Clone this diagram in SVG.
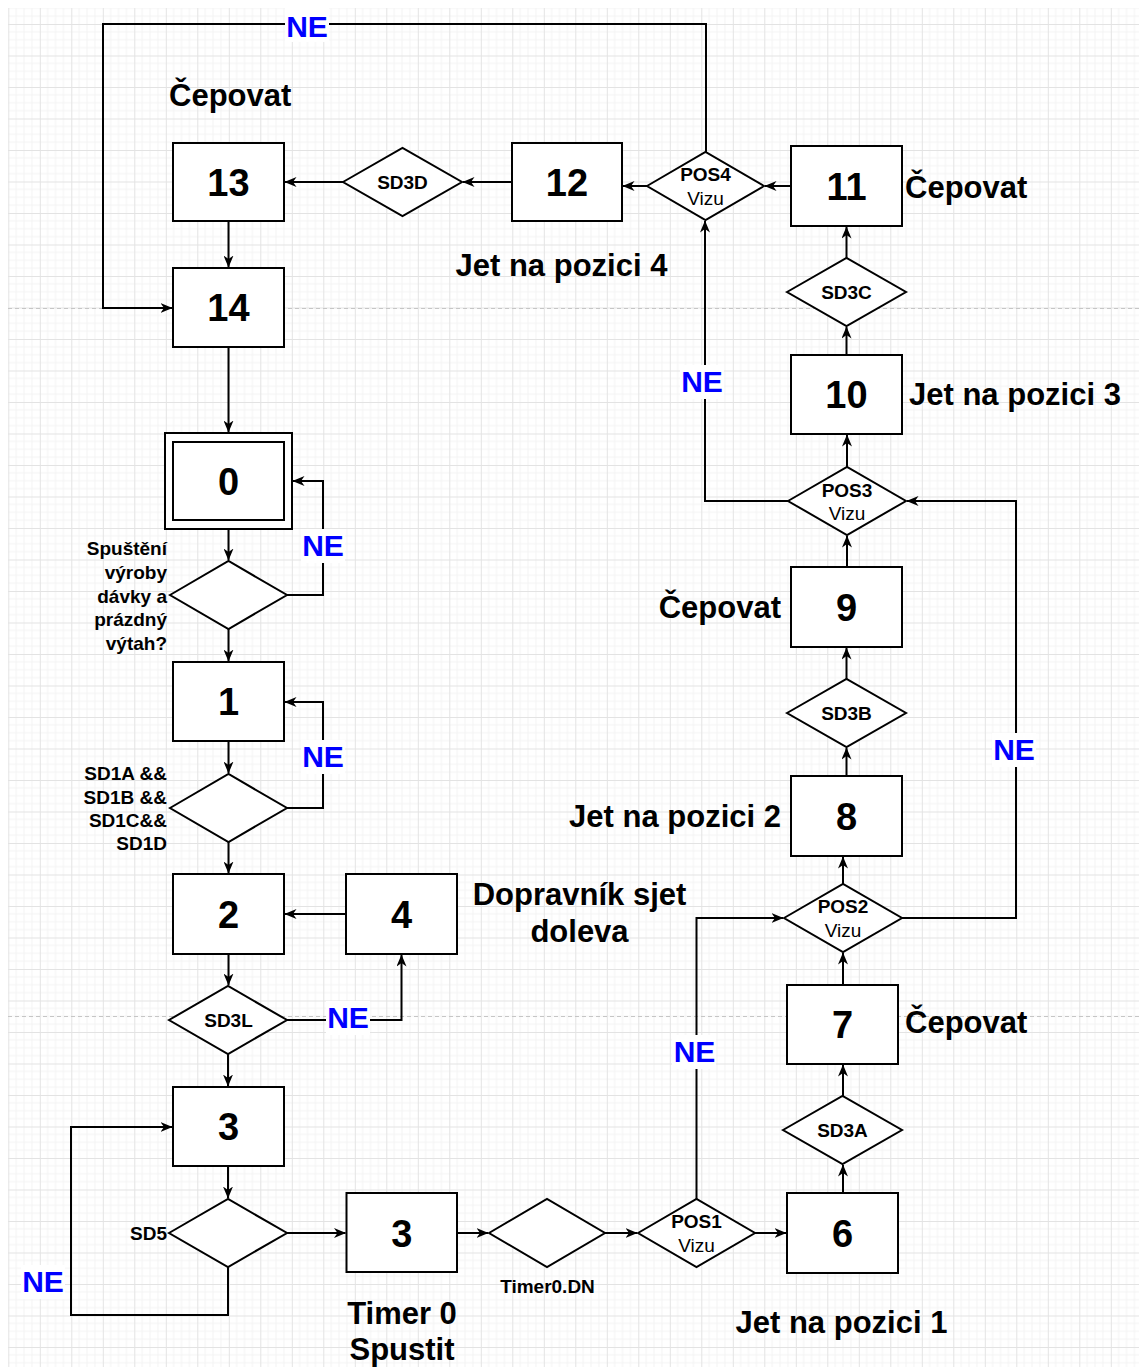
<svg xmlns="http://www.w3.org/2000/svg" width="1139" height="1367" viewBox="0 0 1139 1367">
<defs>
<pattern id="grid" patternUnits="userSpaceOnUse" x="8.3" y="24" width="31.5" height="31.5">
<path d="M7.875 0V31.5M15.75 0V31.5M23.625 0V31.5M0 7.875H31.5M0 15.75H31.5M0 23.625H31.5" stroke="#f3f3f3" stroke-width="1"/>
<path d="M0.5 0V31.5M0 0.5H31.5" stroke="#e3e3e3" stroke-width="1"/>
</pattern>
<marker id="arr" viewBox="0 0 12 10" refX="11.5" refY="5" markerWidth="12" markerHeight="10" markerUnits="userSpaceOnUse" orient="auto">
<path d="M0,0 L12,5 L0,10 L3.5,5 z" fill="#000"/>
</marker>
</defs>
<style>
.box{fill:#fff;stroke:#000;stroke-width:2}
.dia{fill:#fff;stroke:#000;stroke-width:2}
text{font-family:"Liberation Sans",Arial,sans-serif;font-weight:bold;fill:#000}
.num{font-size:38px;text-anchor:middle}
.lbl{font-size:31px}
.sm{font-size:19px}
.c{text-anchor:middle}
.r{text-anchor:end}
.reg{font-weight:normal}
.ne{font-size:30px;fill:#0000ff;text-anchor:middle}
.edge{fill:none;stroke:#000;stroke-width:2}
.arrow{marker-end:url(#arr)}
.nebg{fill:#fff}
.pb{stroke:#c6c6c6;stroke-width:1;stroke-dasharray:4 3}
</style>
<rect x="0" y="0" width="1139" height="1367" fill="#fff"/>
<rect x="8" y="8" width="1131" height="1359" fill="url(#grid)"/>
<line class="pb" x1="8" y1="308.5" x2="1139" y2="308.5"/>
<line class="pb" x1="8" y1="1016.5" x2="1139" y2="1016.5"/>

<g id="connectors">
<path class="edge arrow" d="M343,182 H285"/>
<path class="edge arrow" d="M512,182 H463"/>
<path class="edge arrow" d="M647,186 H623"/>
<path class="edge arrow" d="M791,186 H765"/>
<path class="edge arrow" d="M846.5,258 V227"/>
<path class="edge arrow" d="M846.5,355 V327"/>
<path class="edge arrow" d="M847,467 V435"/>
<path class="edge arrow" d="M847,567 V536"/>
<path class="edge arrow" d="M846.5,679 V648"/>
<path class="edge arrow" d="M846.5,776 V748"/>
<path class="edge arrow" d="M843,884 V857"/>
<path class="edge arrow" d="M843,985 V953"/>
<path class="edge arrow" d="M843,1096 V1065"/>
<path class="edge arrow" d="M843,1193 V1165"/>
<path class="edge arrow" d="M755,1233 H786"/>
<path class="edge arrow" d="M605,1233 H637"/>
<path class="edge arrow" d="M457,1233 H488"/>
<path class="edge arrow" d="M287,1233 H345.5"/>
<path class="edge arrow" d="M228,1267 V1315 H71 V1127 H172"/>
<path class="edge arrow" d="M228,1166 V1198"/>
<path class="edge arrow" d="M228,1054 V1086"/>
<path class="edge arrow" d="M287,1020 H401.5 V955"/>
<path class="edge arrow" d="M346,914 H285"/>
<path class="edge arrow" d="M228.5,954 V985"/>
<path class="edge arrow" d="M228.5,842 V873"/>
<path class="edge arrow" d="M287,808 H323 V702 H285"/>
<path class="edge arrow" d="M228.5,741 V773"/>
<path class="edge arrow" d="M228.5,629 V661"/>
<path class="edge arrow" d="M287,595 H323 V481 H293"/>
<path class="edge arrow" d="M228.5,529 V560"/>
<path class="edge arrow" d="M228.5,347 V432"/>
<path class="edge arrow" d="M228.5,221 V267"/>
<path class="edge arrow" d="M706,152 V24 H103 V308 H172"/>
<path class="edge arrow" d="M788,501 H705 V221"/>
<path class="edge arrow" d="M696.5,1199 V918 H783"/>
<path class="edge arrow" d="M902,918 H1016 V501 H907"/>
<g id="ne-labels">
<rect class="nebg" x="285" y="8" width="44" height="34"/><text class="ne" x="307" y="37">NE</text>
<rect class="nebg" x="301" y="529" width="44" height="34"/><text class="ne" x="323" y="556">NE</text>
<rect class="nebg" x="301" y="740" width="44" height="34"/><text class="ne" x="323" y="767">NE</text>
<rect class="nebg" x="326" y="1001" width="44" height="34"/><text class="ne" x="348" y="1028">NE</text>
<rect class="nebg" x="21" y="1265" width="44" height="34"/><text class="ne" x="43" y="1292">NE</text>
<rect class="nebg" x="672" y="1035" width="44" height="34"/><text class="ne" x="694.5" y="1062">NE</text>
<rect class="nebg" x="680" y="365" width="44" height="34"/><text class="ne" x="702" y="392">NE</text>
<rect class="nebg" x="992" y="733" width="44" height="34"/><text class="ne" x="1014" y="760">NE</text>
</g>
</g>

<g id="n13"><rect class="box" x="173" y="143" width="111" height="78"/><text class="num" x="228.5" y="196">13</text></g>
<g id="n14"><rect class="box" x="173" y="268" width="111" height="79"/><text class="num" x="228.5" y="321">14</text></g>
<g id="n0"><rect class="box" x="165" y="433" width="127" height="96"/><rect class="box" x="173" y="442" width="111" height="78"/><text class="num" x="228.5" y="495">0</text></g>
<g id="n1"><rect class="box" x="173" y="662" width="111" height="79"/><text class="num" x="228.5" y="715">1</text></g>
<g id="n2"><rect class="box" x="173" y="874" width="111" height="80"/><text class="num" x="228.5" y="927.5">2</text></g>
<g id="n4"><rect class="box" x="346" y="874" width="111" height="80"/><text class="num" x="401.5" y="927.5">4</text></g>
<g id="n3a"><rect class="box" x="173" y="1087" width="111" height="79"/><text class="num" x="228.5" y="1140">3</text></g>
<g id="n3b"><rect class="box" x="346.5" y="1193" width="110.5" height="79"/><text class="num" x="401.7" y="1246.5">3</text></g>
<g id="n6"><rect class="box" x="787" y="1193" width="111" height="80"/><text class="num" x="842.5" y="1246.5">6</text></g>
<g id="n7"><rect class="box" x="787" y="985" width="111" height="79"/><text class="num" x="842.5" y="1038">7</text></g>
<g id="n8"><rect class="box" x="791" y="776" width="111" height="80"/><text class="num" x="846.5" y="829.5">8</text></g>
<g id="n9"><rect class="box" x="791" y="567" width="111" height="80"/><text class="num" x="846.5" y="620.5">9</text></g>
<g id="n10"><rect class="box" x="791" y="355" width="111" height="79"/><text class="num" x="846.5" y="408">10</text></g>
<g id="n11"><rect class="box" x="791" y="146" width="111" height="80"/><text class="num" x="846.5" y="199.5">11</text></g>
<g id="n12"><rect class="box" x="512" y="143" width="110" height="78"/><text class="num" x="567" y="196">12</text></g>

<g id="dSD3D"><polygon class="dia" points="343,182 402.5,148 462,182 402.5,216"/><text class="sm c" x="402.5" y="189">SD3D</text></g>
<g id="dPOS4"><polygon class="dia" points="647,186 705.5,152 764,186 705.5,220"/><text class="sm c" x="705.5" y="181">POS4</text><text class="sm c reg" x="705.5" y="205">Vizu</text></g>
<g id="dSD3C"><polygon class="dia" points="787,292 846.5,258 906,292 846.5,326"/><text class="sm c" x="846.5" y="299">SD3C</text></g>
<g id="dPOS3"><polygon class="dia" points="788,501 847,467 906,501 847,535"/><text class="sm c" x="847" y="496.5">POS3</text><text class="sm c reg" x="847" y="520">Vizu</text></g>
<g id="dSD3B"><polygon class="dia" points="787,713 846.5,679 906,713 846.5,747"/><text class="sm c" x="846.5" y="720">SD3B</text></g>
<g id="dPOS2"><polygon class="dia" points="784,918 843,884 902,918 843,952"/><text class="sm c" x="843" y="913">POS2</text><text class="sm c reg" x="843" y="937">Vizu</text></g>
<g id="dSD3A"><polygon class="dia" points="783,1130 842.5,1096 902,1130 842.5,1164"/><text class="sm c" x="842.5" y="1137">SD3A</text></g>
<g id="dPOS1"><polygon class="dia" points="638,1233 696.5,1199 755,1233 696.5,1267"/><text class="sm c" x="696.5" y="1228">POS1</text><text class="sm c reg" x="696.5" y="1252">Vizu</text></g>
<g id="dTimer"><polygon class="dia" points="489,1233 547,1199 605,1233 547,1267"/></g>
<g id="dStart"><polygon class="dia" points="170,595 228.5,561 287,595 228.5,629"/></g>
<g id="dSD1"><polygon class="dia" points="170,808 228.5,774 287,808 228.5,842"/></g>
<g id="dSD3L"><polygon class="dia" points="169,1020 228,986 287,1020 228,1054"/><text class="sm c" x="228.5" y="1027">SD3L</text></g>
<g id="dSD5"><polygon class="dia" points="169,1233 228,1199 287,1233 228,1267"/></g>

<g id="labels">
<text class="lbl" x="169" y="106">Čepovat</text>
<text class="lbl" x="455.5" y="276">Jet na pozici 4</text>
<text class="lbl" x="905" y="198">Čepovat</text>
<text class="lbl" x="909" y="405">Jet na pozici 3</text>
<text class="lbl r" x="781" y="618">Čepovat</text>
<text class="lbl r" x="781" y="827">Jet na pozici 2</text>
<text class="lbl c" x="579.5" y="905">Dopravník sjet</text>
<text class="lbl c" x="579.5" y="942">doleva</text>
<text class="lbl" x="905" y="1033">Čepovat</text>
<text class="lbl c" x="402" y="1324">Timer 0</text>
<text class="lbl c" x="402" y="1360">Spustit</text>
<text class="lbl" x="735.5" y="1333">Jet na pozici 1</text>
<text class="sm c" x="547.5" y="1293">Timer0.DN</text>
<text class="sm r" x="167" y="1240">SD5</text>
<text class="sm r" x="167" y="555">Spuštění</text>
<text class="sm r" x="167" y="579">výroby</text>
<text class="sm r" x="167" y="602.5">dávky a</text>
<text class="sm r" x="167" y="626">prázdný</text>
<text class="sm r" x="167" y="649.5">výtah?</text>
<text class="sm r" x="167" y="780">SD1A &amp;&amp;</text>
<text class="sm r" x="167" y="803.5">SD1B &amp;&amp;</text>
<text class="sm r" x="167" y="827">SD1C&amp;&amp;</text>
<text class="sm r" x="167" y="850">SD1D</text>
</g>
</svg>
